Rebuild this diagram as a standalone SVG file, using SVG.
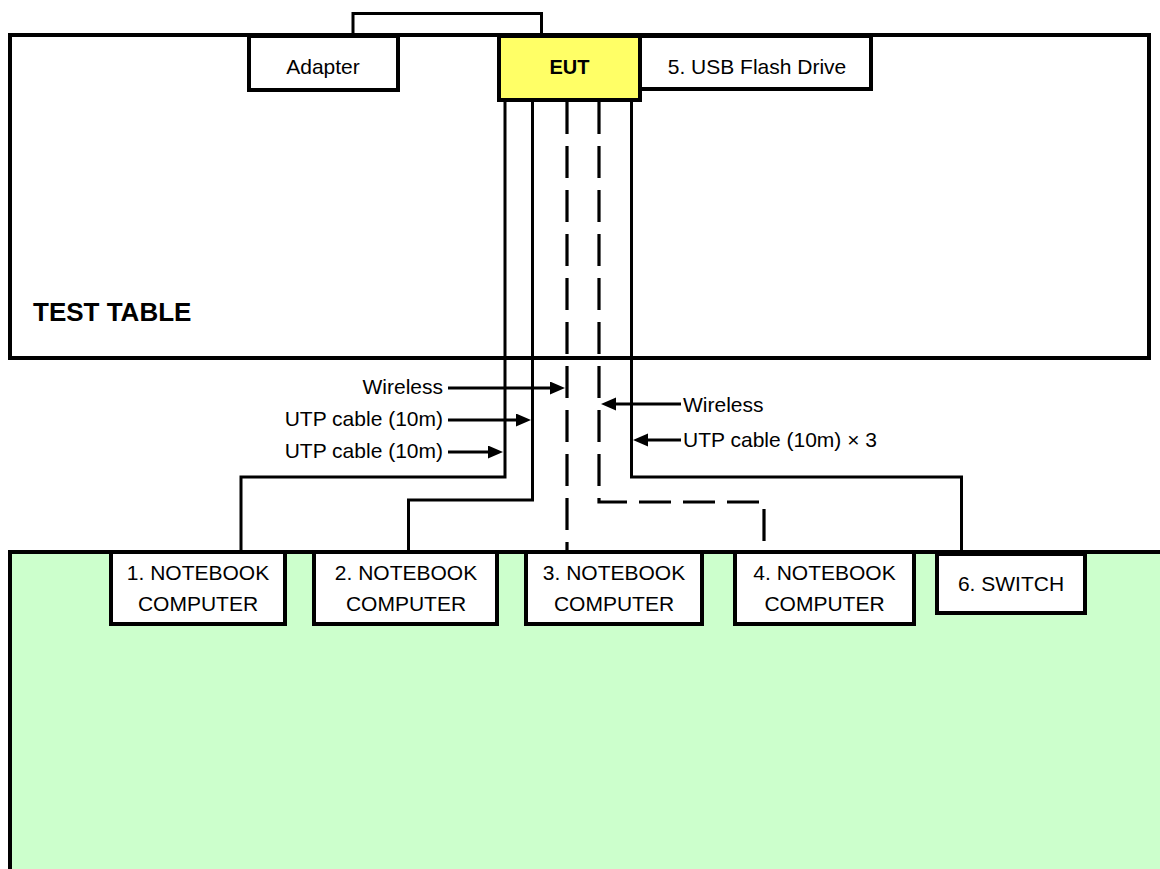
<svg xmlns="http://www.w3.org/2000/svg" width="1160" height="869" viewBox="0 0 1160 869">
<style>
.box{fill:#fff;stroke:#000;stroke-width:4}
.t{font-family:"Liberation Sans",Arial,sans-serif;font-size:21px;fill:#000}
.c{text-anchor:middle}
.w{fill:none;stroke:#000;stroke-width:3}
.d{fill:none;stroke:#000;stroke-width:3.2;stroke-dasharray:32 12}
.a{fill:none;stroke:#000;stroke-width:3;marker-end:url(#ah)}
</style>
<defs>
<marker id="ah" markerUnits="userSpaceOnUse" markerWidth="16" markerHeight="14" refX="1" refY="6.5" orient="auto">
<path d="M0,0 L15,6.5 L0,13 z" fill="#000"/>
</marker>
</defs>
<rect width="1160" height="869" fill="#fff"/>
<g id="test-table">
<rect x="10" y="35" width="1139" height="323" fill="#fff" stroke="#000" stroke-width="4"/>
<text x="33" y="321" class="t" style="font-size:26px;font-weight:bold">TEST TABLE</text>
</g>
<g id="floor">
<path d="M1164,552 H10 V873 H1164 Z" fill="#CCFFCC" stroke="#000" stroke-width="4"/>
</g>
<g id="connectors">
<path class="w" d="M353,36 V13.5 H541.5 V36"/>
<path class="w" d="M505,102 V477 H241 V552"/>
<path class="w" d="M532.5,102 V500 H408.5 V552"/>
<path class="d" d="M567,102 V552"/>
<path class="d" d="M599,102 V502 H764 V552"/>
<path class="w" d="M631.5,102 V477 H961.5 V552"/>
<line class="a" x1="448" y1="388" x2="551" y2="388"/>
<line class="a" x1="448" y1="420" x2="517" y2="420"/>
<line class="a" x1="448" y1="452" x2="489" y2="452"/>
<line class="a" x1="681" y1="404" x2="615" y2="404"/>
<line class="a" x1="681" y1="440" x2="647" y2="440"/>
</g>
<g id="labels">
<text x="443" y="394" class="t" text-anchor="end">Wireless</text>
<text x="443" y="426" class="t" text-anchor="end">UTP cable (10m)</text>
<text x="443" y="458" class="t" text-anchor="end">UTP cable (10m)</text>
<text x="683" y="412" class="t">Wireless</text>
<text x="683" y="447" class="t">UTP cable (10m) × 3</text>
</g>
<g id="adapter">
<rect class="box" x="249" y="36" width="149" height="54"/>
<text x="323" y="74" class="t c">Adapter</text>
</g>
<g id="eut">
<rect x="499" y="36" width="141" height="64" fill="#FFFF66" stroke="#000" stroke-width="4"/>
<text x="569.5" y="74" class="t c" style="font-size:20px;font-weight:bold">EUT</text>
</g>
<g id="usb">
<rect class="box" x="640" y="36" width="231" height="53"/>
<text x="757" y="74" class="t c">5. USB Flash Drive</text>
</g>
<g id="nb1">
<rect class="box" x="111" y="552" width="174" height="72"/>
<text x="198" y="580" class="t c">1. NOTEBOOK</text>
<text x="198" y="611" class="t c">COMPUTER</text>
</g>
<g id="nb2">
<rect class="box" x="314" y="552" width="183" height="72"/>
<text x="406" y="580" class="t c">2. NOTEBOOK</text>
<text x="406" y="611" class="t c">COMPUTER</text>
</g>
<g id="nb3">
<rect class="box" x="526" y="552" width="176" height="72"/>
<text x="614" y="580" class="t c">3. NOTEBOOK</text>
<text x="614" y="611" class="t c">COMPUTER</text>
</g>
<g id="nb4">
<rect class="box" x="735" y="552" width="179" height="72"/>
<text x="824.5" y="580" class="t c">4. NOTEBOOK</text>
<text x="824.5" y="611" class="t c">COMPUTER</text>
</g>
<g id="switch">
<rect class="box" x="937" y="554" width="148" height="59"/>
<text x="1011" y="591" class="t c">6. SWITCH</text>
</g>
</svg>
